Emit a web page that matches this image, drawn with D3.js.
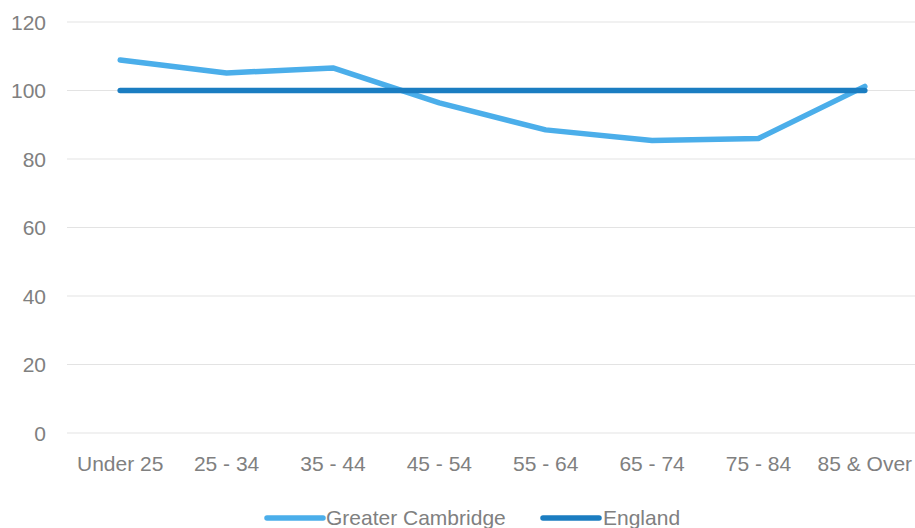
<!DOCTYPE html>
<html><head><meta charset="utf-8">
<script src="https://cdn.jsdelivr.net/npm/d3@7"></script>
<style>body{margin:0;background:#fff;}svg{display:block;}</style>
</head><body>
<svg id="c" width="915" height="528"></svg>
<script>
const categories = ["Under 25","25 - 34","35 - 44","45 - 54","55 - 64","65 - 74","75 - 84","85 & Over"];
const greaterCambridge = [108.9, 105.1, 106.6, 96.4, 88.5, 85.4, 86.0, 101.2];
const england = [100, 100, 100, 100, 100, 100, 100, 100];
const yTicks = [0, 20, 40, 60, 80, 100, 120];
const seriesNames = ["Greater Cambridge", "England"];
const colors = ["#4BAEEA", "#1B7DC1"];

const svg = d3.select("#c");
const font = "'Liberation Sans',Arial,sans-serif";
const fs = 21;
const x = d3.scaleBand().domain(categories).range([67, 918]).padding(0);
const y = d3.scaleLinear().domain([0, 120]).range([433, 22]);

// gridlines
svg.append("g").selectAll("line").data(yTicks).join("line")
  .attr("x1", 67).attr("x2", 915)
  .attr("y1", d => y(d)).attr("y2", d => y(d))
  .attr("stroke", "#e3e3e3").attr("stroke-width", 1.2);

// y labels
const yAxis = d3.axisLeft(y).tickValues(yTicks).tickSize(0).tickPadding(0);
const ya = svg.append("g").attr("transform", "translate(46,0)").call(yAxis);
ya.select(".domain").remove();
ya.selectAll("text").attr("font-family", font).attr("font-size", fs).attr("fill", "#808080").attr("dy", "0.35em")
  .attr("transform", "scale(0.92,1)").attr("x", 0);
ya.selectAll(".tick text").each(function(){ d3.select(this).attr("transform", null); });

// x labels
const xAxis = d3.axisBottom(x).tickSize(0).tickPadding(0);
const xa = svg.append("g").attr("transform", "translate(0,456)").call(xAxis);
xa.select(".domain").remove();
xa.selectAll("text").attr("font-family", font).attr("font-size", fs).attr("fill", "#808080").attr("dy", "0.71em");

const line = d3.line().x((d, i) => x(categories[i]) + x.bandwidth() / 2).y(d => y(d));
[greaterCambridge, england].forEach((s, i) => {
  svg.append("path").datum(s).attr("d", line)
    .attr("fill", "none").attr("stroke", colors[i]).attr("stroke-width", 5.5)
    .attr("stroke-linecap", "round").attr("stroke-linejoin", "round");
});
// legend
const legend = [{x: 267, tx: 326}, {x: 543, tx: 603}];
seriesNames.forEach((n, i) => {
  svg.append("line").attr("x1", legend[i].x).attr("x2", legend[i].x + 56)
    .attr("y1", 518).attr("y2", 518).attr("stroke", colors[i]).attr("stroke-width", 5.5).attr("stroke-linecap", "round");
  svg.append("text").attr("x", legend[i].tx).attr("y", 518).attr("dy", "0.35em")
    .attr("font-family", font).attr("font-size", fs).attr("fill", "#808080").text(n);
});
</script>
</body></html>
